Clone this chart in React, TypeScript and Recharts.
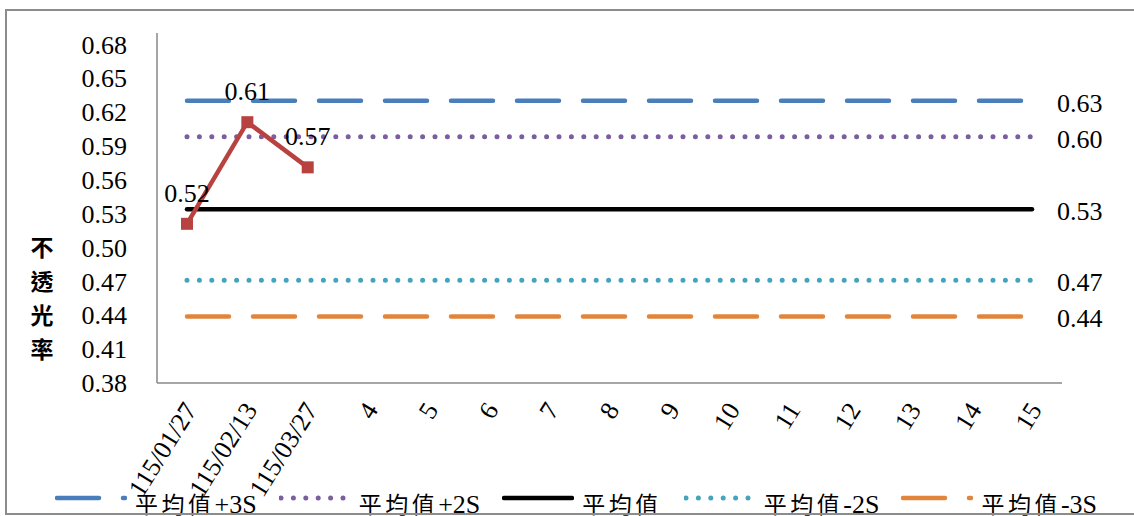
import { LineChart, Line, XAxis, YAxis, Legend, LabelList } from 'recharts';

const CATEGORIES = ['115/01/27', '115/02/13', '115/03/27', '4', '5', '6', '7', '8', '9', '10', '11', '12', '13', '14', '15'];
const OPACITY = [0.521, 0.611, 0.571];
const PLUS_3S = 0.63;
const PLUS_2S = 0.598;
const MEAN = 0.534;
const MINUS_2S = 0.471;
const MINUS_3S = 0.439;
const Y_TICKS = [0.38, 0.41, 0.44, 0.47, 0.5, 0.53, 0.56, 0.59, 0.62, 0.65, 0.68];
const Y_TITLE = ['不', '透', '光', '率'];

const LIMITS = [
  { key: 'p3', name: '平均值+3S', value: PLUS_3S, color: '#4A7EBB', dash: '42 24', width: 4.5 },
  { key: 'p2', name: '平均值+2S', value: PLUS_2S, color: '#7B5EA0', dash: '0 12.4', width: 5 },
  { key: 'mean', name: '平均值', value: MEAN, color: '#000000', dash: undefined, width: 4.5 },
  { key: 'm2', name: '平均值-2S', value: MINUS_2S, color: '#44A4BD', dash: '0 12.4', width: 5 },
  { key: 'm3', name: '平均值-3S', value: MINUS_3S, color: '#E2853C', dash: '42 24', width: 4.5 },
];

const data = CATEGORIES.map((label, i) => {
  const row: any = { label, value: i < OPACITY.length ? OPACITY[i] : null };
  LIMITS.forEach((l) => { row[l.key] = l.value; });
  return row;
});

const SERIF = '"Liberation Serif", "Times New Roman", "Noto Sans CJK TC", serif';
const CJK = '"Noto Sans CJK TC", sans-serif';
const LAST = CATEGORIES.length - 1;

const XTick = ({ x, y, payload }: any) => (
  <g transform={`translate(${x + 3},${y + 20})`}>
    <text x={0} y={0} dy="0.35em" textAnchor="end" transform="rotate(-58)"
      fontFamily={SERIF} fontSize={26} fill="#000">{payload.value}</text>
  </g>
);

const YTitle = (props: any) => {
  const vb = props.viewBox || { x: 0, y: 33 };
  return (
    <g>
      {Y_TITLE.map((c, i) => (
        <text key={c} x={vb.x + 42} y={vb.y + 215 + i * 34} dy="0.35em" textAnchor="middle"
          fontFamily={CJK} fontWeight={700} fontSize={23} fill="#000">{c}</text>
      ))}
    </g>
  );
};

const SquareDot = (props: any) => {
  const { cx, cy, index } = props;
  if (cx == null || cy == null) return <g key={`d-${index}`} />;
  return <rect key={`d-${index}`} x={cx - 6} y={cy - 6} width={12} height={12} fill="#B8423F" />;
};

const DataLabel = (props: any) => {
  const { x, y, value } = props;
  if (value == null || x == null || y == null) return null;
  return (
    <text x={x} y={y - 31} dy="0.35em" textAnchor="middle" fontFamily={SERIF} fontSize={26} fill="#000">
      {Number(value).toFixed(2)}
    </text>
  );
};

const EndLabel = (props: any) => {
  const { x, y, value, index } = props;
  if (index !== LAST) return null;
  return (
    <text x={x + 25} y={y + 2} dy="0.35em" textAnchor="start" fontFamily={SERIF} fontSize={26} fill="#000">
      {Number(value).toFixed(2)}
    </text>
  );
};

const LegendName = ({ name }: { name: string }) => {
  const m = name.match(/^([^\x00-\x7F]+)(.*)$/);
  const cjk = m ? m[1] : name;
  const rest = m ? m[2] : '';
  return (
    <span>
      <span style={{ fontFamily: CJK, fontSize: 23, letterSpacing: 3.5 }}>{cjk}</span>
      <span>{rest}</span>
    </span>
  );
};

const LegendRow = () => (
  <div style={{ display: 'flex', alignItems: 'flex-start', fontFamily: SERIF, fontSize: 26, lineHeight: '26px', color: '#000', whiteSpace: 'nowrap' }}>
    {LIMITS.map((l) => (
      <div key={l.key} style={{ display: 'flex', alignItems: 'flex-start', marginRight: 22 }}>
        <svg width={72} height={26} style={{ marginRight: 8 }}>
          <line x1={2} y1={8} x2={70} y2={8} stroke={l.color} strokeWidth={l.width}
            strokeDasharray={l.dash} strokeLinecap="round" />
        </svg>
        <LegendName name={l.name} />
      </div>
    ))}
  </div>
);

export default function App() {
  return (
    <div style={{ position: 'absolute', left: 0, top: 0, width: 1134, height: 516, overflow: 'hidden', background: '#fff' }}>
      <LineChart width={1134} height={516} data={data} margin={{ top: 33, right: 72, bottom: 0, left: 0 }}>
        <XAxis dataKey="label" interval={0} height={133} tickSize={0} tickLine={false}
          padding={{ left: 30, right: 30 }} axisLine={{ stroke: '#888', strokeWidth: 1.5 }} tick={<XTick />} />
        <YAxis domain={[0.38, 0.69]} ticks={Y_TICKS} interval={0} width={157} tickSize={0} tickMargin={30} tickLine={false}
          axisLine={{ stroke: '#888', strokeWidth: 1.5 }} allowDataOverflow
          tickFormatter={(v: number) => v.toFixed(2)}
          tick={{ fontFamily: SERIF, fontSize: 26, fill: '#000' }} label={YTitle} />
        <Legend layout="horizontal" verticalAlign="middle" align="center" content={LegendRow}
          wrapperStyle={{ position: 'absolute', left: 55, top: 490, width: 1079, height: 26 }} />
        {LIMITS.map((l) => (
          <Line key={l.key} dataKey={l.key} name={l.name} stroke={l.color} strokeWidth={l.width}
            strokeDasharray={l.dash} strokeLinecap="round" dot={false} activeDot={false} isAnimationActive={false}>
            <LabelList dataKey={l.key} content={EndLabel} />
          </Line>
        ))}
        <Line dataKey="value" name="不透光率" stroke="#B8423F" strokeWidth={4.5} dot={SquareDot} activeDot={false}
          legendType="none" connectNulls={false} isAnimationActive={false}>
          <LabelList dataKey="value" content={DataLabel} />
        </Line>
      </LineChart>
      <div style={{ position: 'absolute', left: 5, top: 9, width: 1160, height: 506, boxSizing: 'border-box', border: '2px solid #8c8c8c', pointerEvents: 'none', zIndex: 5 }} />
    </div>
  );
}
